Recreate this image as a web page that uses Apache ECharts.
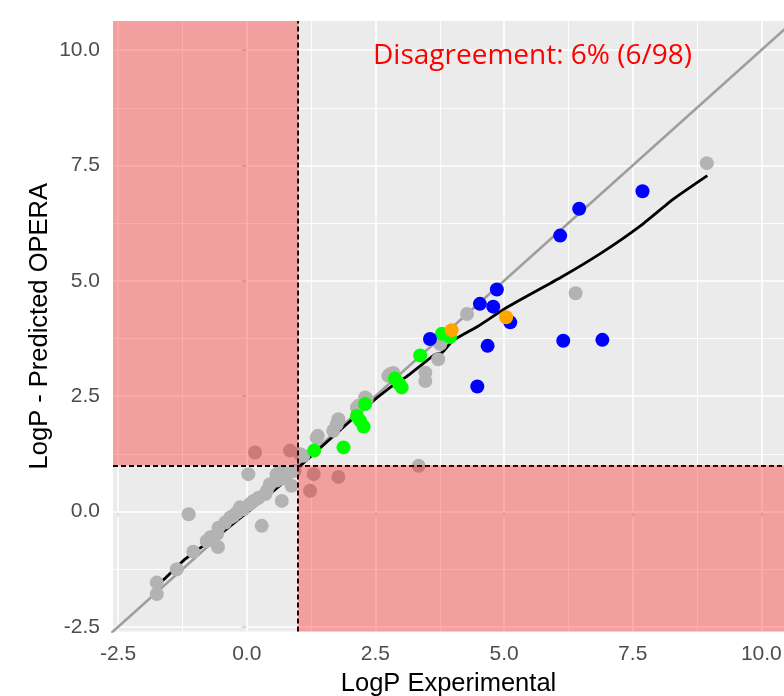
<!DOCTYPE html>
<html>
<head>
<meta charset="utf-8">
<script src="https://cdn.jsdelivr.net/npm/echarts@6/dist/echarts.min.js"></script>
<style>html,body{margin:0;padding:0;background:#fff;}#main{width:784px;height:696px;}</style>
</head>
<body>
<div id="main"></div>
<script>
// axis ranges / ticks
var xRange = [-2.6, 10.44];
var yRange = [-2.6, 10.63];
var majorTicks = [-2.5, 0, 2.5, 5, 7.5, 10];
var minorTicks = [-1.25, 1.25, 3.75, 6.25, 8.75];
var cutoff = 1;

// points [logP experimental, logP predicted]
var grayPts = [
  [-1.75,-1.79],[-1.75,-1.54],[-1.36,-1.25],[-1.04,-0.87],[-0.78,-0.64],[-0.71,-0.56],
  [-0.56,-0.77],[-0.58,-0.49],[-0.55,-0.35],[-0.42,-0.24],[-0.32,-0.13],[-0.26,-0.09],
  [-0.19,-0.02],[-0.13,0.09],[-0.07,0.05],[0.06,0.16],[0.13,0.23],[0.23,0.30],
  [0.36,0.38],[0.39,0.45],[0.45,0.59],[0.58,0.67],[0.58,0.81],[0.65,0.85],[0.72,0.72],
  [0.80,0.83],[0.93,0.88],[0.03,0.81],[0.68,0.23],[0.87,0.56],[0.29,-0.31],[-1.13,-0.06],
  [0.16,1.28],[0.84,1.32],[1.30,0.81],[1.23,0.45],[1.78,0.75],[3.34,0.99],
  [1.04,1.24],[1.10,1.21],[1.36,1.60],[1.38,1.64],[1.68,1.75],[1.75,1.89],[1.78,2.00],
  [2.14,2.25],[2.17,2.29],[2.33,2.44],[2.30,2.47],[2.75,2.94],[2.79,2.98],[2.85,3.00],
  [3.47,3.01],[3.47,2.83],[3.72,3.30],[3.76,3.63],[4.28,4.28],[6.39,4.73],[8.94,7.55]
];
var greenPts = [
  [1.31,1.32],[1.88,1.39],[2.14,2.07],[2.20,1.97],[2.27,1.84],[2.30,2.33],
  [2.88,2.88],[2.96,2.77],[3.01,2.69],[3.37,3.38],[3.79,3.85],[3.95,3.78]
];
var bluePts = [
  [3.56,3.74],[4.48,2.71],[4.53,4.50],[4.68,3.59],[4.79,4.44],[4.86,4.81],[5.12,4.10],
  [6.09,5.98],[6.15,3.70],[6.46,6.56],[6.91,3.72],[7.69,6.94]
];
var orangePts = [[3.98,3.93],[5.04,4.21]];

// smoothed fit line
var loessX = [-1.8,-1.6,-1.2,-0.4,0.6,1.0,1.55,2.3,2.8,3.1,3.5,3.65,3.8,4.0,4.5,5.05,6.1,6.9,7.65,8.3,8.95];
var loessY = [-1.65,-1.46,-1.03,-0.38,0.52,0.95,1.50,2.25,2.70,2.92,3.27,3.40,3.45,3.70,4.02,4.42,5.07,5.61,6.19,6.78,7.28];
var identity = [-2.7, 10.8];

var labelText = 'Disagreement: 6% (6/98)';

var myChart = echarts.init(document.getElementById('main'));

var gridLines = [];
majorTicks.forEach(function (v) {
  gridLines.push({xAxis: v, lineStyle: {width: 1.6}});
  gridLines.push({yAxis: v, lineStyle: {width: 1.6}});
});
minorTicks.forEach(function (v) {
  gridLines.push({xAxis: v, lineStyle: {width: 0.9}});
  gridLines.push({yAxis: v, lineStyle: {width: 0.9}});
});

function pts(color, data) {
  return {
    type: 'scatter', data: data, symbolSize: 14, z: 4, silent: true,
    itemStyle: {color: color, opacity: 1}
  };
}

var tickFont = {fontSize: 21, color: '#4D4D4D', fontFamily: 'Liberation Sans'};
var nameFont = {fontSize: 25.5, color: '#000', fontFamily: 'Liberation Sans'};

var option = {
  animation: false,
  grid: {left: 113, right: 0, top: 21, bottom: 64.5, show: true, backgroundColor: '#EBEBEB', borderWidth: 0,
    containLabel: false, outerBoundsMode: 'none'},
  xAxis: {
    type: 'value', min: xRange[0], max: xRange[1],
    name: 'LogP Experimental', nameLocation: 'middle', nameGap: 39, nameMoveOverlap: false,
    nameTextStyle: nameFont,
    axisLine: {show: false}, splitLine: {show: false},
    axisTick: {show: true, customValues: majorTicks, length: 5, lineStyle: {color: '#333', width: 1.5}},
    axisLabel: Object.assign({customValues: majorTicks, margin: 12,
      formatter: function (v) { return v.toFixed(1); }}, tickFont)
  },
  yAxis: {
    type: 'value', min: yRange[0], max: yRange[1],
    name: 'LogP - Predicted OPERA', nameLocation: 'middle', nameGap: 60, nameMoveOverlap: false,
    nameTextStyle: nameFont,
    axisLine: {show: false}, splitLine: {show: false},
    axisTick: {show: true, customValues: majorTicks, length: 5, lineStyle: {color: '#333', width: 1.5}},
    axisLabel: Object.assign({customValues: majorTicks, margin: 13,
      formatter: function (v) { return v.toFixed(1); }}, tickFont)
  },
  graphic: [{
    type: 'text', left: 373, top: 42, z: 100,
    style: {text: labelText, fill: '#FF0000', fontSize: 28, fontFamily: 'Open Sans'}
  }],
  series: [
    {
      type: 'line', data: [], silent: true,
      markLine: {silent: true, symbol: 'none', z: 1, label: {show: false},
        lineStyle: {color: '#FFFFFF', type: 'solid'}, data: gridLines}
    },
    {
      type: 'line', data: identity.map(function (v) { return [v, v]; }),
      showSymbol: false, silent: true, z: 2, clip: true,
      lineStyle: {color: '#9E9E9E', width: 2.5}
    },
    {
      type: 'line', data: loessX.map(function (v, i) { return [v, loessY[i]]; }),
      showSymbol: false, silent: true, z: 3, smooth: 0.15,
      lineStyle: {color: '#000000', width: 2.8}
    },
    pts('#B3B3B3', grayPts),
    pts('#00FF00', greenPts),
    pts('#0000FF', bluePts),
    pts('#FFA500', orangePts),
    {
      type: 'line', data: [], silent: true,
      markLine: {silent: true, symbol: 'none', z: 9, label: {show: false},
        lineStyle: {color: '#000000', type: [5, 3], width: 2},
        data: [{xAxis: cutoff}, {yAxis: cutoff}]},
      markArea: {silent: true, z: 10, itemStyle: {color: 'rgba(255,0,0,0.32)'},
        data: [
          [{coord: [xRange[0], cutoff]}, {coord: [cutoff, yRange[1]]}],
          [{coord: [cutoff, yRange[0]]}, {coord: [xRange[1], cutoff]}]
        ]}
    }
  ]
};
myChart.setOption(option);
</script>
</body>
</html>
